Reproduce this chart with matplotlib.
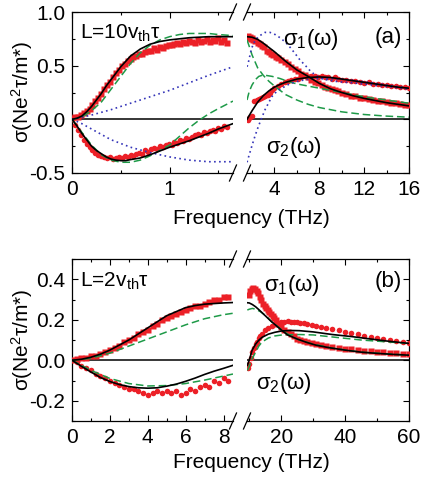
import numpy as np
import matplotlib
matplotlib.use('Agg')
import matplotlib.pyplot as plt
from matplotlib.lines import Line2D
from matplotlib.ticker import MultipleLocator

plt.rcParams['font.family'] = ['Liberation Sans', 'DejaVu Sans']
plt.rcParams['mathtext.fontset'] = 'custom'
plt.rcParams['mathtext.rm'] = 'Liberation Sans'
plt.rcParams['mathtext.it'] = 'Liberation Sans:italic'
plt.rcParams['axes.unicode_minus'] = False

## ---------------- panel (a), L = 10 vth tau ----------------
## low frequency part (0 - 1.65 THz), measured points
a_lo_f1 = [0.00, 0.03, 0.06, 0.09, 0.12, 0.15, 0.18, 0.21, 0.24, 0.27, 0.30, 0.33, 0.36, 0.39, 0.42, 0.45,
           0.48, 0.51, 0.54, 0.57, 0.60, 0.63, 0.66, 0.69, 0.72, 0.75, 0.78, 0.81, 0.84, 0.87, 0.90, 0.93,
           0.96, 0.99, 1.02, 1.05, 1.08, 1.11, 1.14, 1.17, 1.20, 1.23, 1.26, 1.29, 1.32, 1.35, 1.38, 1.41,
           1.44, 1.47, 1.50, 1.53, 1.56, 1.59]
a_lo_s1 = [0.01, 0.02, 0.02, 0.04, 0.06, 0.08, 0.10, 0.13, 0.17, 0.20, 0.24, 0.28, 0.32, 0.35, 0.39, 0.43,
           0.46, 0.50, 0.52, 0.54, 0.56, 0.58, 0.59, 0.61, 0.61, 0.63, 0.64, 0.64, 0.66, 0.65, 0.67, 0.66,
           0.68, 0.69, 0.69, 0.70, 0.71, 0.70, 0.72, 0.71, 0.73, 0.72, 0.71, 0.74, 0.72, 0.73, 0.75, 0.72,
           0.74, 0.73, 0.76, 0.72, 0.74, 0.71]
a_lo_s2 = [0.00, -0.05, -0.10, -0.15, -0.19, -0.23, -0.26, -0.29, -0.31, -0.33, -0.34, -0.35, -0.36, -0.35,
           -0.37, -0.36, -0.35, -0.36, -0.34, -0.35, -0.33, -0.34, -0.32, -0.31, -0.32, -0.29, -0.30, -0.28,
           -0.27, -0.28, -0.25, -0.26, -0.24, -0.23, -0.24, -0.21, -0.22, -0.19, -0.20, -0.17, -0.18, -0.16,
           -0.15, -0.14, -0.15, -0.12, -0.13, -0.11, -0.10, -0.11, -0.08, -0.09, -0.06, -0.07]
## low frequency model curves
a_lo_fk = [0, 0.05, 0.1, 0.15, 0.2, 0.25, 0.3, 0.35, 0.4, 0.45, 0.5, 0.55, 0.6, 0.7, 0.8, 0.9, 1.0,
           1.1, 1.2, 1.3, 1.4, 1.5, 1.65]
a_lo_k1 = [0, 0.01, 0.03, 0.07, 0.12, 0.18, 0.24, 0.31, 0.37, 0.43, 0.49, 0.54, 0.59, 0.655, 0.70, 0.725,
           0.74, 0.75, 0.76, 0.765, 0.77, 0.77, 0.77]
a_lo_k2 = [0, -0.06, -0.13, -0.19, -0.25, -0.29, -0.32, -0.35, -0.37, -0.38, -0.385, -0.385, -0.375, -0.36,
           -0.33, -0.295, -0.26, -0.23, -0.20, -0.165, -0.13, -0.09, -0.04]
a_lo_fg = [0, 0.1, 0.2, 0.3, 0.4, 0.5, 0.6, 0.7, 0.8, 0.9, 1.0, 1.1, 1.2, 1.3, 1.4, 1.5, 1.65]
a_lo_g1 = [0, 0.02, 0.08, 0.16, 0.28, 0.40, 0.52, 0.62, 0.69, 0.74, 0.77, 0.79, 0.80, 0.80, 0.80, 0.79, 0.78]
a_lo_g2 = [0, -0.12, -0.24, -0.33, -0.38, -0.40, -0.40, -0.38, -0.34, -0.29, -0.24, -0.16, -0.08, -0.01,
           0.05, 0.10, 0.17]
a_lo_fb = [0, 0.1, 0.2, 0.3, 0.4, 0.6, 0.8, 1.0, 1.2, 1.4, 1.65]
a_lo_b1 = [0, 0.02, 0.04, 0.065, 0.09, 0.15, 0.21, 0.27, 0.34, 0.41, 0.49]
a_lo_b2 = [0, -0.04, -0.09, -0.14, -0.19, -0.26, -0.31, -0.35, -0.38, -0.395, -0.395]

## high frequency part (1.55 - 16 THz)
a_hi_f1 = [1.6, 1.7, 1.8, 1.9, 2.0, 2.1, 2.3, 2.5, 2.7, 2.9, 3.1, 3.3, 3.5, 3.7, 3.9, 4.1, 4.3, 4.6, 4.9,
           5.2, 5.5, 5.8, 6.1, 6.4, 6.7, 7.0, 7.3, 7.6, 7.9, 8.2, 8.5, 8.8, 9.1, 9.4, 9.7, 10.0, 10.4, 10.8,
           11.2, 11.6, 12.0, 12.4, 12.8, 13.2, 13.6, 14.0, 14.4, 14.8, 15.2, 15.6, 16.0]
a_hi_s1 = [0.78, 0.76, 0.77, 0.75, 0.76, 0.74, 0.73, 0.71, 0.70, 0.68, 0.67, 0.64, 0.63, 0.61, 0.60, 0.58,
           0.57, 0.55, 0.53, 0.52, 0.49, 0.47, 0.45, 0.42, 0.41, 0.39, 0.37, 0.35, 0.34, 0.32, 0.30, 0.29,
           0.28, 0.27, 0.26, 0.25, 0.24, 0.22, 0.22, 0.20, 0.20, 0.19, 0.18, 0.17, 0.17, 0.16, 0.15, 0.15,
           0.14, 0.13, 0.13]
a_hi_f2 = [1.6, 1.7, 1.85, 2.0, 2.2, 2.4, 2.6, 2.8, 3.0, 3.2, 3.4, 3.6, 3.8, 4.0, 4.3, 4.6, 4.9, 5.2, 5.5,
           5.8, 6.1, 6.4, 6.7, 7.0, 7.3, 7.6, 7.9, 8.2, 8.5, 8.8, 9.1, 9.4, 9.7, 10.0, 10.4, 10.8, 11.2,
           11.6, 12.0, 12.4, 12.8, 13.2, 13.6, 14.0, 14.4, 14.8, 15.2, 15.6, 16.0]
a_hi_s2 = [-0.01, 0.01, 0.02, 0.03, 0.17, 0.18, 0.19, 0.20, 0.21, 0.22, 0.23, 0.25, 0.27, 0.29, 0.31, 0.33,
           0.35, 0.36, 0.37, 0.38, 0.38, 0.39, 0.40, 0.39, 0.40, 0.40, 0.39, 0.40, 0.39, 0.39, 0.38, 0.39,
           0.38, 0.37, 0.37, 0.36, 0.36, 0.35, 0.34, 0.35, 0.33, 0.33, 0.32, 0.32, 0.31, 0.31, 0.30, 0.30, 0.29]
a_hi_fk = [1.55, 2.0, 2.5, 3.0, 3.5, 4.0, 4.5, 5.0, 6.0, 7.0, 8.0, 9.0, 10.0, 11.0, 12.0, 13.0, 14.0, 15.0, 16.0]
a_hi_k1 = [0.77, 0.765, 0.745, 0.71, 0.67, 0.63, 0.585, 0.54, 0.46, 0.40, 0.335, 0.285, 0.25, 0.22, 0.195,
           0.175, 0.155, 0.14, 0.125]
a_hi_k2 = [0.0, 0.08, 0.16, 0.22, 0.265, 0.30, 0.325, 0.345, 0.375, 0.39, 0.395, 0.39, 0.375, 0.36, 0.345,
           0.33, 0.315, 0.30, 0.29]
a_hi_fg1 = [1.55, 1.75, 2.0, 2.25, 2.5, 3.0, 3.5, 4.0, 5.0, 6.0, 7.0, 8.0, 9.0, 10.0, 12.0, 14.0, 16.0]
a_hi_g1 = [0.74, 0.68, 0.60, 0.54, 0.48, 0.41, 0.355, 0.31, 0.23, 0.18, 0.14, 0.11, 0.09, 0.07, 0.045, 0.03, 0.02]
a_hi_fg2 = [1.55, 1.75, 2.0, 2.3, 2.6, 2.9, 3.2, 3.8, 4.5, 5.3, 6.0, 7.0, 8.0, 10.0, 12.0, 14.0, 16.0]
a_hi_g2 = [0.18, 0.26, 0.32, 0.37, 0.40, 0.41, 0.41, 0.40, 0.38, 0.35, 0.33, 0.31, 0.29, 0.25, 0.21, 0.18, 0.15]
a_hi_fb1 = [1.55, 1.65, 1.95, 2.25, 2.55, 3.16, 3.6, 4.06, 4.5, 4.96, 5.4, 5.86, 6.3, 6.77, 7.2, 7.67, 8.1,
            8.57, 9.7, 11.0, 12.8, 14.5, 16.0]
a_hi_b1 = [0.49, 0.52, 0.66, 0.73, 0.77, 0.81, 0.81, 0.79, 0.76, 0.72, 0.67, 0.61, 0.55, 0.50, 0.45, 0.41,
           0.385, 0.37, 0.35, 0.34, 0.32, 0.30, 0.28]
a_hi_fb2 = [1.55, 1.75, 1.95, 2.25, 2.55, 2.85, 3.16, 3.46, 3.76, 4.2, 4.66, 5.26, 5.86, 6.8, 7.7, 9.0, 10.5,
            12.0, 14.0, 16.0]
a_hi_b2 = [-0.40, -0.33, -0.26, -0.16, -0.07, 0.01, 0.09, 0.15, 0.21, 0.26, 0.29, 0.325, 0.35, 0.37, 0.38,
           0.38, 0.37, 0.35, 0.32, 0.29]

## ---------------- panel (b), L = 2 vth tau ----------------
b_lo_f = [0.0, 0.25, 0.5, 0.75, 1.0, 1.25, 1.5, 1.75, 2.0, 2.25, 2.5, 2.75, 3.0, 3.25, 3.5, 3.75, 4.0, 4.25,
          4.5, 4.75, 5.0, 5.25, 5.5, 5.75, 6.0, 6.25, 6.5, 6.75, 7.0, 7.25, 7.5, 7.75, 8.0, 8.25]
b_lo_s1 = [0.0, 0.005, 0.01, 0.01, 0.02, 0.02, 0.03, 0.04, 0.05, 0.06, 0.07, 0.09, 0.10, 0.11, 0.13, 0.14,
           0.15, 0.17, 0.18, 0.20, 0.21, 0.22, 0.23, 0.24, 0.25, 0.26, 0.27, 0.27, 0.28, 0.29, 0.30, 0.30,
           0.31, 0.31]
b_lo_s2 = [0.0, -0.01, -0.03, -0.04, -0.05, -0.07, -0.08, -0.09, -0.10, -0.11, -0.12, -0.13, -0.14, -0.14,
           -0.15, -0.16, -0.17, -0.16, -0.15, -0.16, -0.15, -0.16, -0.15, -0.17, -0.16, -0.14, -0.15, -0.13,
           -0.12, -0.13, -0.10, -0.11, -0.09, -0.10]
b_lo_fk = [0, 0.5, 1, 1.5, 2, 2.5, 3, 3.5, 4, 4.5, 5, 5.5, 6, 6.5, 7, 7.5, 8, 8.5]
b_lo_k1 = [0, 0.005, 0.015, 0.03, 0.05, 0.075, 0.10, 0.13, 0.16, 0.19, 0.22, 0.24, 0.26, 0.27, 0.277, 0.28,
           0.283, 0.285]
b_lo_k2 = [0, -0.03, -0.058, -0.085, -0.105, -0.12, -0.13, -0.136, -0.138, -0.136, -0.128, -0.118, -0.104,
           -0.088, -0.07, -0.054, -0.04, -0.025]
b_lo_fg = [0, 0.5, 1, 2, 3, 4, 5, 6, 7, 8, 8.5]
b_lo_g1 = [0, 0.004, 0.01, 0.035, 0.07, 0.105, 0.14, 0.175, 0.205, 0.225, 0.232]
b_lo_g2 = [0, -0.025, -0.05, -0.09, -0.115, -0.127, -0.125, -0.115, -0.098, -0.078, -0.068]

b_hi_f1 = [9.8, 10.3, 10.8, 11.3, 11.8, 12.3, 12.8, 13.3, 13.8, 14.3, 14.8, 15.3, 15.8, 16.3, 16.8, 17.3,
           17.8, 18.3, 19, 20, 21, 22, 23, 24, 25, 26, 27, 28, 29.5, 31, 32.5, 34, 36, 38, 40, 42, 44, 46,
           48, 50, 52, 54, 56, 58, 60]
b_hi_s1 = [0.32, 0.34, 0.35, 0.355, 0.35, 0.34, 0.33, 0.31, 0.30, 0.28, 0.27, 0.26, 0.25, 0.24, 0.23, 0.22,
           0.21, 0.20, 0.18, 0.165, 0.15, 0.14, 0.13, 0.12, 0.105, 0.10, 0.095, 0.09, 0.085, 0.08, 0.075,
           0.07, 0.065, 0.06, 0.058, 0.055, 0.05, 0.048, 0.045, 0.042, 0.04, 0.038, 0.035, 0.033, 0.03]
b_hi_f2 = [9.5, 10, 10.5, 11, 11.5, 12, 12.5, 13, 13.5, 14, 15, 16, 17, 18, 19, 20, 21, 22, 23, 24, 25, 26,
           27, 28, 29.5, 31, 32.5, 34, 36, 38, 40, 42, 44, 46, 48, 50, 52, 54, 56, 58, 60]
b_hi_s2 = [-0.04, -0.02, 0.01, 0.04, 0.06, 0.08, 0.09, 0.11, 0.12, 0.13, 0.15, 0.16, 0.17, 0.18, 0.185,
           0.19, 0.19, 0.195, 0.19, 0.19, 0.19, 0.185, 0.185, 0.18, 0.175, 0.17, 0.165, 0.16, 0.155, 0.15,
           0.14, 0.135, 0.13, 0.12, 0.115, 0.11, 0.105, 0.10, 0.095, 0.09, 0.085]
b_hi_fk1 = [9.4, 10, 11, 12, 13, 14, 15, 16, 17, 18, 20, 22, 25, 28, 31, 35, 40, 45, 50, 55, 60]
b_hi_k1 = [0.284, 0.283, 0.275, 0.264, 0.25, 0.235, 0.22, 0.205, 0.19, 0.177, 0.15, 0.125, 0.105, 0.088,
           0.074, 0.062, 0.05, 0.04, 0.034, 0.029, 0.025]
b_hi_fk2 = [9.4, 10, 10.9, 12, 13, 14, 16, 18, 20.3, 23, 25.7, 30, 36, 42, 47, 53, 60]
b_hi_k2 = [-0.025, 0.0, 0.05, 0.08, 0.099, 0.113, 0.129, 0.138, 0.145, 0.147, 0.146, 0.14, 0.127, 0.117,
           0.107, 0.095, 0.083]
b_hi_fg1 = [9.4, 10, 11, 12, 13.5, 15.2, 17, 19, 21, 23, 25.7, 30, 36, 45, 60]
b_hi_g1 = [0.248, 0.252, 0.256, 0.252, 0.24, 0.22, 0.19, 0.165, 0.14, 0.12, 0.10, 0.08, 0.06, 0.04, 0.025]
b_hi_fg2 = [9.4, 10, 11, 12, 13, 14, 16, 18, 20.3, 25.7, 30, 36, 45, 60]
b_hi_g2 = [-0.05, -0.03, 0.01, 0.04, 0.07, 0.09, 0.11, 0.12, 0.125, 0.127, 0.125, 0.115, 0.10, 0.083]

red = '#ec2027'
green = '#1e9a48'
blue = '#3434b8'
W, H = 423., 478.

def box(x0, y0, x1, y1):
    # pixel box (top-left origin) -> figure fraction rect
    return [x0/W, 1-y1/H, (x1-x0)/W, (y1-y0)/H]

def dots(ax, f1, s1, f2, s2):
    ax.plot(f1, s1, 's', color=red, ms=4.5, mec='none', zorder=3)
    ax.plot(f2, s2, 'o', color=red, ms=4, mec='none', zorder=3)

def fit(ax, f, s, kind):
    if kind == 'k':
        ax.plot(f, s, '-', color='k', lw=1.2, zorder=5)
    elif kind == 'g':
        ax.plot(f, s, '--', color=green, lw=1.1, dashes=(5, 2.5), zorder=4)
    else:
        ax.plot(f, s, ls=(0, (1, 2)), color=blue, lw=1.2, zorder=4)

def style(ax, side):
    ax.axhline(0, color='k', lw=1.1, zorder=2)
    ax.tick_params(which='both', direction='in', top=True, labelsize=15, width=0.8, pad=5)
    ax.tick_params(which='major', length=4)
    ax.tick_params(which='minor', length=2.5)
    for s in ax.spines.values():
        s.set_linewidth(0.9)
    if side == 'left':
        ax.spines['right'].set_visible(False)
        ax.tick_params(which='both', right=False)
    else:
        ax.spines['left'].set_visible(False)
        ax.tick_params(which='both', left=False, labelleft=False, right=True)

def breaks(fig, axl, axr):
    pl = axl.get_position()
    pr = axr.get_position()
    dx, dy = 3.5/W, 8/H
    for y in [pl.y0, pl.y1]:
        for x in [pl.x1, pr.x0]:
            fig.add_artist(Line2D([x-dx, x+dx], [y-dy, y+dy], color='k', lw=0.9, transform=fig.transFigure))

fig = plt.figure(figsize=(4.23, 4.78), dpi=100)

## panel (a)
axl = fig.add_axes(box(72, 12, 233, 173))
axr = fig.add_axes(box(247, 12, 409, 173))
dots(axl, a_lo_f1, a_lo_s1, a_lo_f1, a_lo_s2)
fit(axl, a_lo_fk, a_lo_k1, 'k'); fit(axl, a_lo_fk, a_lo_k2, 'k')
fit(axl, a_lo_fg, a_lo_g1, 'g'); fit(axl, a_lo_fg, a_lo_g2, 'g')
fit(axl, a_lo_fb, a_lo_b1, 'b'); fit(axl, a_lo_fb, a_lo_b2, 'b')
dots(axr, a_hi_f1, a_hi_s1, a_hi_f2, a_hi_s2)
fit(axr, a_hi_fk, a_hi_k1, 'k'); fit(axr, a_hi_fk, a_hi_k2, 'k')
fit(axr, a_hi_fg1, a_hi_g1, 'g'); fit(axr, a_hi_fg2, a_hi_g2, 'g')
fit(axr, a_hi_fb1, a_hi_b1, 'b'); fit(axr, a_hi_fb2, a_hi_b2, 'b')
for ax in [axl, axr]:
    ax.set_ylim(-0.5, 1.0)
    ax.yaxis.set_major_locator(MultipleLocator(0.5))
    ax.yaxis.set_minor_locator(MultipleLocator(0.25))
axl.set_xlim(0, 1.65)
axl.xaxis.set_major_locator(MultipleLocator(1))
axl.xaxis.set_minor_locator(MultipleLocator(0.5))
axl.set_yticklabels(['%.1f' % v for v in axl.get_yticks()])
axr.set_xlim(1.55, 16)
axr.xaxis.set_major_locator(MultipleLocator(4))
axr.xaxis.set_minor_locator(MultipleLocator(2))
style(axl, 'left'); style(axr, 'right')
axl.set_ylim(-0.5, 1.0); axr.set_ylim(-0.5, 1.0)
breaks(fig, axl, axr)

## panel (b)
bxl = fig.add_axes(box(72, 259, 233, 421))
bxr = fig.add_axes(box(247, 259, 409, 421))
dots(bxl, b_lo_f, b_lo_s1, b_lo_f, b_lo_s2)
fit(bxl, b_lo_fk, b_lo_k1, 'k'); fit(bxl, b_lo_fk, b_lo_k2, 'k')
fit(bxl, b_lo_fg, b_lo_g1, 'g'); fit(bxl, b_lo_fg, b_lo_g2, 'g')
dots(bxr, b_hi_f1, b_hi_s1, b_hi_f2, b_hi_s2)
fit(bxr, b_hi_fk1, b_hi_k1, 'k'); fit(bxr, b_hi_fk2, b_hi_k2, 'k')
fit(bxr, b_hi_fg1, b_hi_g1, 'g'); fit(bxr, b_hi_fg2, b_hi_g2, 'g')
for ax in [bxl, bxr]:
    ax.set_ylim(-0.3, 0.5)
    ax.yaxis.set_major_locator(MultipleLocator(0.2))
    ax.yaxis.set_minor_locator(MultipleLocator(0.1))
bxl.set_xlim(0, 8.5)
bxl.xaxis.set_major_locator(MultipleLocator(2))
bxl.xaxis.set_minor_locator(MultipleLocator(1))
bxl.set_yticks([-0.2, 0.0, 0.2, 0.4])
bxl.set_yticklabels(['-0.2', '0.0', '0.2', '0.4'])
bxr.set_xlim(9.3, 60)
bxr.xaxis.set_major_locator(MultipleLocator(20))
bxr.xaxis.set_minor_locator(MultipleLocator(10))
style(bxl, 'left'); style(bxr, 'right')
bxl.set_ylim(-0.3, 0.5); bxr.set_ylim(-0.3, 0.5)
breaks(fig, bxl, bxr)

## labels and annotations
def t(x, y, s, size=15, **kw):
    fig.text(x/W, 1-y/H, s, fontsize=size, **kw)

t(22, 92, r'σ(Ne$^2$τ/m*)', rotation=90, ha='center', va='center')
t(22, 340, r'σ(Ne$^2$τ/m*)', rotation=90, ha='center', va='center')
t(251, 218, 'Frequency (THz)', ha='center', va='center')
t(251, 462, 'Frequency (THz)', ha='center', va='center')
t(80, 33, r'L=10v$_{\rm th}$τ', ha='left', va='center')
t(80, 281, r'L=2v$_{\rm th}$τ', ha='left', va='center')
t(388, 37, '(a)', size=16, ha='center', va='center')
t(388, 281, '(b)', size=16, ha='center', va='center')
t(311, 39, r'σ$_1$(ω)', size=16, ha='center', va='center')
t(294, 147, r'σ$_2$(ω)', size=16, ha='center', va='center')
t(292, 285, r'σ$_1$(ω)', size=16, ha='center', va='center')
t(284, 384, r'σ$_2$(ω)', size=16, ha='center', va='center')

fig.savefig('out.png', dpi=100)
